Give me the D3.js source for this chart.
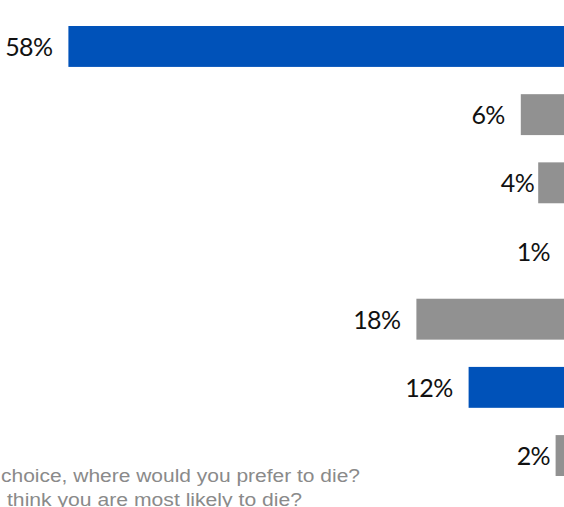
<!DOCTYPE html>
<html>
<head>
<meta charset="utf-8">
<script src="https://cdn.jsdelivr.net/npm/d3@7"></script>
<style>
  html, body { margin: 0; padding: 0; background: #ffffff; }
  svg { display: block; }
</style>
</head>
<body>
<svg id="chart" width="564" height="507"></svg>
<script>
// ---- data (top to bottom) ----
const rows = ["r1", "r2", "r3", "r4", "r5", "r6", "r7"];
const values = [58, 6, 4, 1, 18, 12, 2];
const labels = ["58%", "6%", "4%", "1%", "18%", "12%", "2%"];
const highlight = [true, false, false, false, false, true, false];
const noteLines = [
  "choice, where would you prefer to die?",
  "think you are most likely to die?"
];

const W = 564, H = 507;
const BLUE = "#0052b9", GREY = "#919191";

const svg = d3.select("#chart");

// bars grow leftwards from a baseline just off the right edge
const x = d3.scaleLinear().domain([0, 58]).range([573, 68.4]);
const y = d3.scaleBand().domain(rows).range([26, 476]).paddingInner(0.4).paddingOuter(0);

const data = rows.map((r, i) => ({ row: r, v: values[i], label: labels[i], hi: highlight[i] }));

svg.append("g").selectAll("rect").data(data).join("rect")
  .attr("x", d => x(d.v))
  .attr("y", d => y(d.row))
  .attr("width", d => x(0) - x(d.v))
  .attr("height", y.bandwidth())
  .attr("fill", d => d.hi ? BLUE : GREY);

svg.append("g").selectAll("text").data(data).join("text")
  .attr("x", d => Math.min(x(d.v) - (d.v < 5 ? 4 : 16), 550))
  .attr("y", d => y(d.row) + y.bandwidth() / 2 + 9.5)
  .attr("text-anchor", "end")
  .attr("font-family", "Lato, 'Open Sans', sans-serif")
  .attr("font-size", 25)
  .attr("letter-spacing", -0.6)
  .attr("fill", "#111")
  .text(d => d.label);

const noteX = [1, 7], noteLen = [359, 295];
svg.append("g").selectAll("text").data(noteLines).join("text")
  .attr("x", (d, i) => noteX[i])
  .attr("y", (d, i) => 482 + i * 24)
  .attr("font-family", "'Liberation Sans', Arial, sans-serif")
  .attr("font-size", 17.5)
  .attr("textLength", (d, i) => noteLen[i])
  .attr("lengthAdjust", "spacingAndGlyphs")
  .attr("fill", "#8a8a8a")
  .text(d => d);
</script>
</body>
</html>
